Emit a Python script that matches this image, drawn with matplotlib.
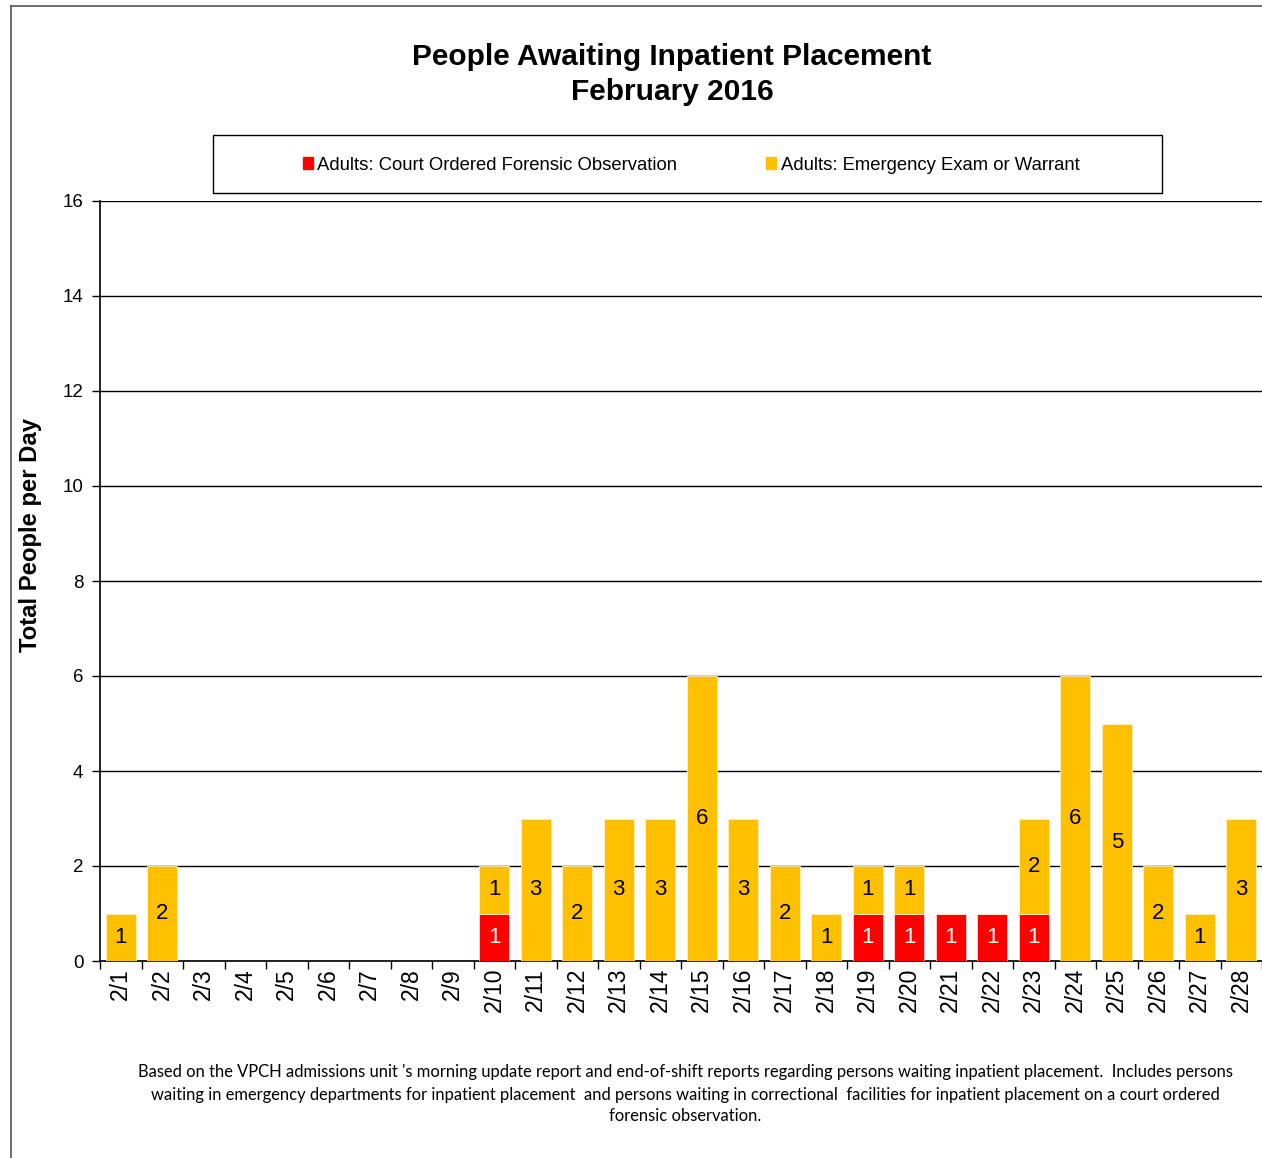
import numpy as np
import matplotlib

matplotlib.use('Agg')
import matplotlib.pyplot as plt
from matplotlib.patches import Patch, Rectangle
from matplotlib.lines import Line2D

# data ##########################################################################
days = ['2/%d' % d for d in range(1, 29)]
court_ordered = [0, 0, 0, 0, 0, 0, 0, 0, 0, 1, 0, 0, 0, 0,
                 0, 0, 0, 0, 1, 1, 1, 1, 1, 0, 0, 0, 0, 0]
emergency = [1, 2, 0, 0, 0, 0, 0, 0, 0, 1, 3, 2, 3, 3,
             6, 3, 2, 1, 1, 1, 0, 0, 2, 6, 5, 2, 1, 3]
series_names = ['Adults: Court Ordered Forensic Observation', 'Adults: Emergency Exam or Warrant']
y_ticks = [0, 2, 4, 6, 8, 10, 12, 14, 16]

red = '#FF0000'
gold = '#FFC000'

plt.rcParams['font.family'] = ['Liberation Sans', 'DejaVu Sans']

fig = plt.figure(figsize=(12.62, 11.58), dpi=100)
ax = fig.add_axes([100 / 1262, 1 - 961 / 1158, 1162 / 1262, 760 / 1158])

x = np.arange(len(days))
court = np.array(court_ordered)
emerg = np.array(emergency)

ax.bar(x, court, width=0.72, color=red, edgecolor='#ffd8d8', linewidth=0.6, zorder=3)
ax.bar(x, emerg, width=0.72, bottom=court, color=gold, edgecolor='#fff0c0', linewidth=0.6, zorder=3)

# value labels in the middle of each segment
for i in range(len(days)):
    if court[i] > 0:
        ax.text(x[i], court[i] / 2, str(court[i]), ha='center', va='center',
                fontsize=16, color='white', zorder=4)
    if emerg[i] > 0:
        ax.text(x[i], court[i] + emerg[i] / 2, str(emerg[i]), ha='center', va='center',
                fontsize=16, color='black', zorder=4)

ax.set_xlim(-0.5, len(days) - 0.5)
ax.set_ylim(0, 16)
ax.set_yticks(y_ticks)
ax.set_yticklabels([str(t) for t in y_ticks], fontsize=13.5)
ax.yaxis.grid(True, color='black', linewidth=1.0, zorder=0)
ax.set_axisbelow(True)

# category labels centered, ticks on the boundaries
ax.set_xticks(x)
ax.set_xticklabels(days, rotation=90, fontsize=16.5)
ax.tick_params(axis='x', which='major', length=0, pad=5)
ax.set_xticks(np.arange(-0.5, len(days), 1.0), minor=True)
ax.tick_params(axis='x', which='minor', length=6, width=1, direction='out')
ax.tick_params(axis='y', length=6, width=1, direction='out', pad=6)

for s in ['top', 'right']:
    ax.spines[s].set_visible(False)
ax.spines['left'].set_linewidth(1.2)
ax.spines['bottom'].set_linewidth(1.2)

ax.set_ylabel('Total People per Day', fontsize=17.2, fontweight='bold')
ax.yaxis.set_label_coords(42 / 1262, 1 - 535 / 1158, transform=fig.transFigure)

# title
fig.text(672 / 1262, 1 - 57 / 1158, 'People Awaiting Inpatient Placement', ha='center', va='center',
         fontsize=21.5, fontweight='bold')
fig.text(672 / 1262, 1 - 92 / 1158, 'February 2016', ha='center', va='center',
         fontsize=21.5, fontweight='bold')

# legend with its own frame
fig.patches.append(Rectangle((213 / 1262, 1 - 193 / 1158), 949 / 1262, 58 / 1158,
                             transform=fig.transFigure, fill=False, edgecolor='black', linewidth=1.0))
handles = [Patch(color=red), Patch(color=gold)]
fig.legend(handles, series_names, loc='center', bbox_to_anchor=(691 / 1262, 1 - 165 / 1158),
           ncol=2, frameon=False, fontsize=13.3, handlelength=0.55, handleheight=0.55,
           handletextpad=0.25, columnspacing=4.8)

# footnote
foot = ["Based on the VPCH admissions unit 's morning update report and end-of-shift reports regarding persons "
        "waiting inpatient placement.  Includes persons",
        "waiting in emergency departments for inpatient placement  and persons waiting in correctional  "
        "facilities for inpatient placement on a court ordered",
        "forensic observation."]
for k, yy in enumerate([1072, 1095, 1116]):
    fig.text(685 / 1262, 1 - yy / 1158, foot[k], ha='center', va='center', fontsize=11.9, family='Lato')

# outer border of the chart area
fig.add_artist(Line2D([11 / 1262, 11 / 1262], [0, 1 - 6 / 1158], transform=fig.transFigure,
                      color='#555555', linewidth=1.2))
fig.add_artist(Line2D([11 / 1262, 1], [1 - 6 / 1158, 1 - 6 / 1158], transform=fig.transFigure,
                      color='#555555', linewidth=1.2))

fig.savefig('out.png', dpi=100)
